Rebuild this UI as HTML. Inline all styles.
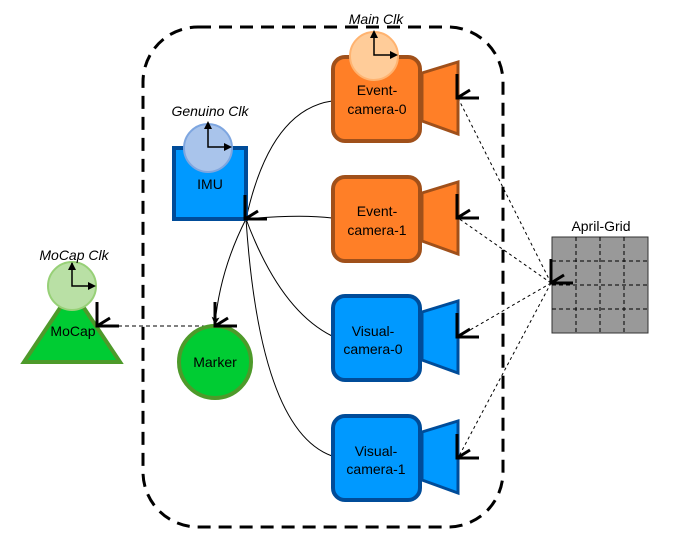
<!DOCTYPE html>
<html><head><meta charset="utf-8"><style>
html,body{margin:0;padding:0;background:#fff;width:676px;height:549px;overflow:hidden}
svg{display:block}
text{font-family:"Liberation Sans",sans-serif;font-size:14px;fill:#000}
.it{font-style:italic}
</style></head><body>
<svg width="676" height="549" viewBox="0 0 676 549">
<defs>
<marker id="ah" markerWidth="8" markerHeight="8" refX="7" refY="4" orient="auto" markerUnits="userSpaceOnUse"><path d="M0,0 L8,4 L0,8 L2,4 Z" fill="#000"/></marker>
<g id="fr"><path d="M0,-24 V0 H22" fill="none" stroke="#000" stroke-width="3"/><path d="M0,0 L13,-8" stroke="#000" stroke-width="3"/></g>
</defs>
<rect x="143" y="27" width="360" height="500" rx="55" fill="none" stroke="#000" stroke-width="3" stroke-dasharray="13 8"/>
<!-- dotted lines to grid -->
<g stroke="#000" stroke-width="1" stroke-dasharray="3 3" fill="none">
<path d="M551,283 L458,98"/><path d="M551,283 L458,218"/><path d="M551,283 L458,337"/><path d="M551,283 L458,458"/>
<path d="M97,326 L237,326" stroke-dasharray="4 3"/>
</g>
<!-- curves from IMU -->
<g stroke="#000" stroke-width="1" fill="none">
<path d="M246,219 Q270,110 332,101"/>
<path d="M246,219 Q300,214 332,218"/>
<path d="M246,219 Q280,310 332,336"/>
<path d="M246,219 Q260,430 332,456"/>
<path d="M246,219 Q220,270 215,324" marker-end="url(#ah)"/>
</g>
<!-- IMU -->
<rect x="174" y="148" width="72" height="71" fill="#0099ff" stroke="#004c99" stroke-width="4"/>
<circle cx="208" cy="148" r="24" fill="#a9c4eb" stroke="#7ea6e0" stroke-width="2"/>
<path d="M208,123 V147 H230" fill="none" stroke="#000" stroke-width="1.5"/>
<path d="M204,129 L208,121 L212,129Z M224,143 L232,147 L224,151Z" fill="#000"/>
<text x="210" y="189" text-anchor="middle">IMU</text>
<text x="210" y="116" text-anchor="middle" class="it">Genuino Clk</text>
<use href="#fr" x="245" y="219"/>
<!-- cameras -->
<g>
<rect x="333" y="57" width="87" height="84" rx="12" fill="#ff7f27" stroke="#a0501a" stroke-width="4"/>
<path d="M422,73 L458,62 L458,134 L422,121Z" fill="#ff7f27" stroke="#a0501a" stroke-width="3"/>
<circle cx="374" cy="56" r="24" fill="#ffcc99" stroke="#ffb370" stroke-width="2"/>
<path d="M374,32 V55 H396" fill="none" stroke="#000" stroke-width="1.5"/>
<path d="M370,38 L374,30 L378,38Z M390,51 L398,55 L390,59Z" fill="#000"/>
<text x="376" y="24" text-anchor="middle" class="it">Main Clk</text>
<text x="377" y="95" text-anchor="middle">Event-</text><text x="377" y="114" text-anchor="middle">camera-0</text>
<use href="#fr" x="457" y="98"/>
</g>
<g>
<rect x="333" y="177" width="87" height="84" rx="12" fill="#ff7f27" stroke="#a0501a" stroke-width="4"/>
<path d="M422,193 L458,182 L458,254 L422,241Z" fill="#ff7f27" stroke="#a0501a" stroke-width="3"/>
<text x="377" y="216" text-anchor="middle">Event-</text><text x="377" y="235" text-anchor="middle">camera-1</text>
<use href="#fr" x="457" y="218"/>
</g>
<g>
<rect x="333" y="296" width="87" height="84" rx="12" fill="#0099ff" stroke="#004c99" stroke-width="4"/>
<path d="M422,312 L458,301 L458,373 L422,360Z" fill="#0099ff" stroke="#004c99" stroke-width="3"/>
<text x="373" y="336" text-anchor="middle">Visual-</text><text x="373" y="354" text-anchor="middle">camera-0</text>
<use href="#fr" x="457" y="337"/>
</g>
<g>
<rect x="333" y="416" width="87" height="84" rx="12" fill="#0099ff" stroke="#004c99" stroke-width="4"/>
<path d="M422,432 L458,421 L458,493 L422,480Z" fill="#0099ff" stroke="#004c99" stroke-width="3"/>
<text x="376" y="456" text-anchor="middle">Visual-</text><text x="376" y="474" text-anchor="middle">camera-1</text>
<use href="#fr" x="457" y="458"/>
</g>
<!-- grid -->
<rect x="552" y="237" width="96" height="96" fill="#999" stroke="#333" stroke-width="1"/>
<g stroke="#000" stroke-width="1" stroke-dasharray="4 3">
<path d="M576,237V333M600,237V333M624,237V333M552,261H648M552,285H648M552,309H648"/>
</g>
<text x="601" y="231" text-anchor="middle">April-Grid</text>
<use href="#fr" x="551" y="283"/>
<!-- MoCap -->
<path d="M72,290 L120,362 L24,362Z" fill="#00cc33" stroke="#4d9a2a" stroke-width="4"/>
<circle cx="72" cy="286" r="24" fill="#b9e0a5" stroke="#97d077" stroke-width="2"/>
<path d="M72,263 V286 H94" fill="none" stroke="#000" stroke-width="1.5"/>
<path d="M68,270 L72,262 L76,270Z M88,282 L96,286 L88,290Z" fill="#000"/>
<text x="73" y="336" text-anchor="middle">MoCap</text>
<text x="74" y="260" text-anchor="middle" class="it">MoCap Clk</text>
<use href="#fr" x="97" y="326"/>
<!-- Marker -->
<circle cx="215" cy="362" r="36" fill="#00cc33" stroke="#4d9a2a" stroke-width="4"/>
<text x="215" y="367" text-anchor="middle">Marker</text>
<use href="#fr" x="215" y="326"/>
</svg>
</body></html>
